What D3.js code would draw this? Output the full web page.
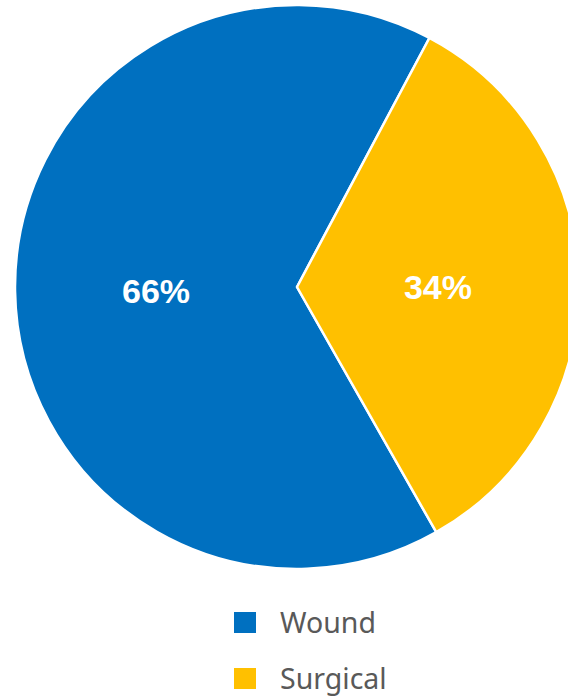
<!DOCTYPE html>
<html>
<head>
<meta charset="utf-8">
<script src="https://cdn.jsdelivr.net/npm/d3@7"></script>
<style>
  html, body { margin: 0; padding: 0; background: #fff; }
  svg { display: block; }
</style>
</head>
<body>
<svg id="chart" width="568" height="698"></svg>
<script>
// categories and their shares (percent)
var categories = ['Wound', 'Surgical'];
var values = [66, 34];
var colors = ['#0070C0', '#FFC000'];

var svg = d3.select('#chart');
var cx = 297, cy = 287, radius = 282;

// wound slice starts lower right, surgical sits on the right side
var startDeg = 150.4;
var pie = d3.pie()
    .sort(null)
    .value(function(d) { return d.value; })
    .startAngle(startDeg * Math.PI / 180)
    .endAngle(startDeg * Math.PI / 180 + 2 * Math.PI);

var data = categories.map(function(c, i) {
    return { name: c, value: values[i], color: colors[i] };
});
var total = d3.sum(values);

var arc = d3.arc().innerRadius(0).outerRadius(radius);
var labelArc = d3.arc().innerRadius(0).outerRadius(radius);

var g = svg.append('g').attr('transform', 'translate(' + cx + ',' + cy + ')');

g.selectAll('path.slice')
    .data(pie(data))
    .enter()
    .append('path')
    .attr('class', 'slice')
    .attr('d', arc)
    .attr('fill', function(d) { return d.data.color; })
    .attr('stroke', '#fff')
    .attr('stroke-width', 2.5)
    .attr('stroke-linejoin', 'round');

g.selectAll('text.pct')
    .data(pie(data))
    .enter()
    .append('text')
    .attr('class', 'pct')
    .attr('transform', function(d) {
        var c = labelArc.centroid(d);
        return 'translate(' + c[0] + ',' + c[1] + ')';
    })
    .attr('text-anchor', 'middle')
    .attr('dy', '0.4em')
    .style('font-family', '"Liberation Sans", Arial, sans-serif')
    .style('font-weight', 'bold')
    .style('font-size', '34px')
    .style('fill', '#fff')
    .text(function(d) { return Math.round(d.data.value / total * 100) + '%'; });

// legend
var legend = svg.append('g').attr('transform', 'translate(234, 612)');
var item = legend.selectAll('g.item')
    .data(data)
    .enter()
    .append('g')
    .attr('class', 'item')
    .attr('transform', function(d, i) { return 'translate(0,' + (i * 56) + ')'; });

item.append('rect')
    .attr('width', 22)
    .attr('height', 21)
    .attr('fill', function(d) { return d.color; });

item.append('text')
    .attr('x', 46)
    .attr('y', 21)
    .style('font-family', '"Noto Sans", "Liberation Sans", sans-serif')
    .style('font-size', '28.5px')
    .style('fill', '#595959')
    .text(function(d) { return d.name; });
</script>
</body>
</html>
